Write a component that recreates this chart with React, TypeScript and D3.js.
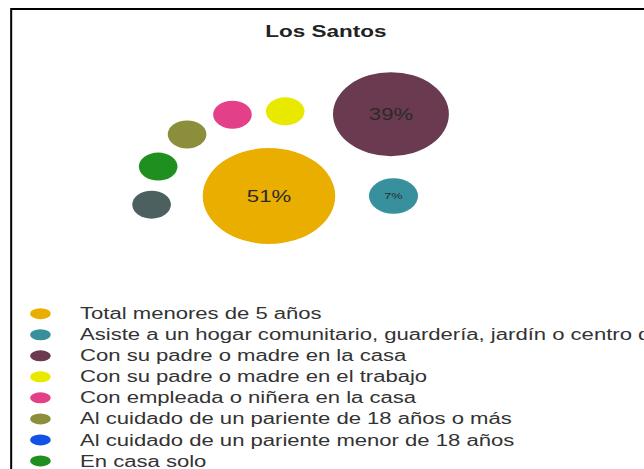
import React from "react";
import * as d3 from "d3";

const title = "Los Santos";
const categories = [
  "Total menores de 5 años",
  "Asiste a un hogar comunitario, guardería, jardín o centro de desarrollo infantil",
  "Con su padre o madre en la casa",
  "Con su padre o madre en el trabajo",
  "Con empleada o niñera en la casa",
  "Al cuidado de un pariente de 18 años o más",
  "Al cuidado de un pariente menor de 18 años",
  "En casa solo",
  "Otro",
];
const values = [51, 7, 39, 1, 1, 1, 0, 1, 1];
const colors = [
  "#eaae00",
  "#38909d",
  "#6a3a50",
  "#e9e900",
  "#e4408a",
  "#8c8e3c",
  "#1252e6",
  "#1f901f",
  "#4c6060",
];

const W = 644;
const H = 469;
const SX = 1.38; // horizontal stretch of the original picture
const VW = W / SX;

export default function App() {
  const rScale = d3.scaleSqrt().domain([0, d3.max(values) as number]).range([0, 48]);
  const minR = 14;
  const radius = (v: number) => Math.max(minR, rScale(v));

  // packed layout around the largest bubble
  const cx0 = 194.9;
  const cy0 = 196;
  const R0 = radius(values[0]);
  const nodes: { i: number; x: number; y: number; r: number }[] = [
    { i: 0, x: cx0, y: cy0, r: R0 },
  ];
  let prevD = 0;
  let prevR = 0;
  let angle = 0;
  let first = true;
  values.forEach((v, i) => {
    if (i === 0 || v <= 0) return;
    const r = radius(v);
    const d = R0 + r + 20 + 0.25 * r;
    if (!first) {
      const c = 1.37 * (prevR + r);
      const cosA = (prevD * prevD + d * d - c * c) / (2 * prevD * d);
      angle -= Math.acos(Math.max(-1, Math.min(1, cosA)));
    }
    first = false;
    nodes.push({ i, x: cx0 + d * Math.cos(angle), y: cy0 + d * Math.sin(angle), r });
    prevD = d;
    prevR = r;
  });

  const legendY = d3.scaleLinear().domain([0, 1]).range([313.7, 313.7 + 21.04]);

  return (
    <div style={{ position: "absolute", left: 0, top: 0, width: W, height: H, overflow: "hidden", background: "#fff" }}>
      <svg width={W} height={H} viewBox={`0 0 ${VW} ${H}`} preserveAspectRatio="none" style={{ display: "block" }}>
        <rect x={8.1} y={9} width={1000} height={1000} fill="none" stroke="#000" strokeWidth={2} vectorEffect="non-scaling-stroke" />
        <text x={236.2} y={37.5} textAnchor="middle" fontFamily="'Liberation Sans', Arial, sans-serif" fontWeight="bold" fontSize={16.3} fill="#222">
          {title}
        </text>
        {nodes.map((n) => (
          <g key={n.i}>
            <circle cx={n.x} cy={n.y} r={n.r} fill={colors[n.i]} />
            {n.r > minR && (
              <text
                x={n.x}
                y={n.y}
                dy="0.35em"
                textAnchor="middle"
                fontFamily="'Liberation Sans', Arial, sans-serif"
                fontSize={Math.min(16, n.r * 0.52)}
                fill="#2a2a2a"
              >
                {`${values[n.i]}%`}
              </text>
            )}
          </g>
        ))}
        {categories.map((c, i) => (
          <g key={c}>
            <ellipse cx={29.3} cy={legendY(i)} rx={7.5} ry={5.5} fill={colors[i]} />
            <text x={58} y={legendY(i) + 5.6} fontFamily="'Liberation Sans', Arial, sans-serif" fontSize={16} fill="#333">
              {c}
            </text>
          </g>
        ))}
      </svg>
    </div>
  );
}
